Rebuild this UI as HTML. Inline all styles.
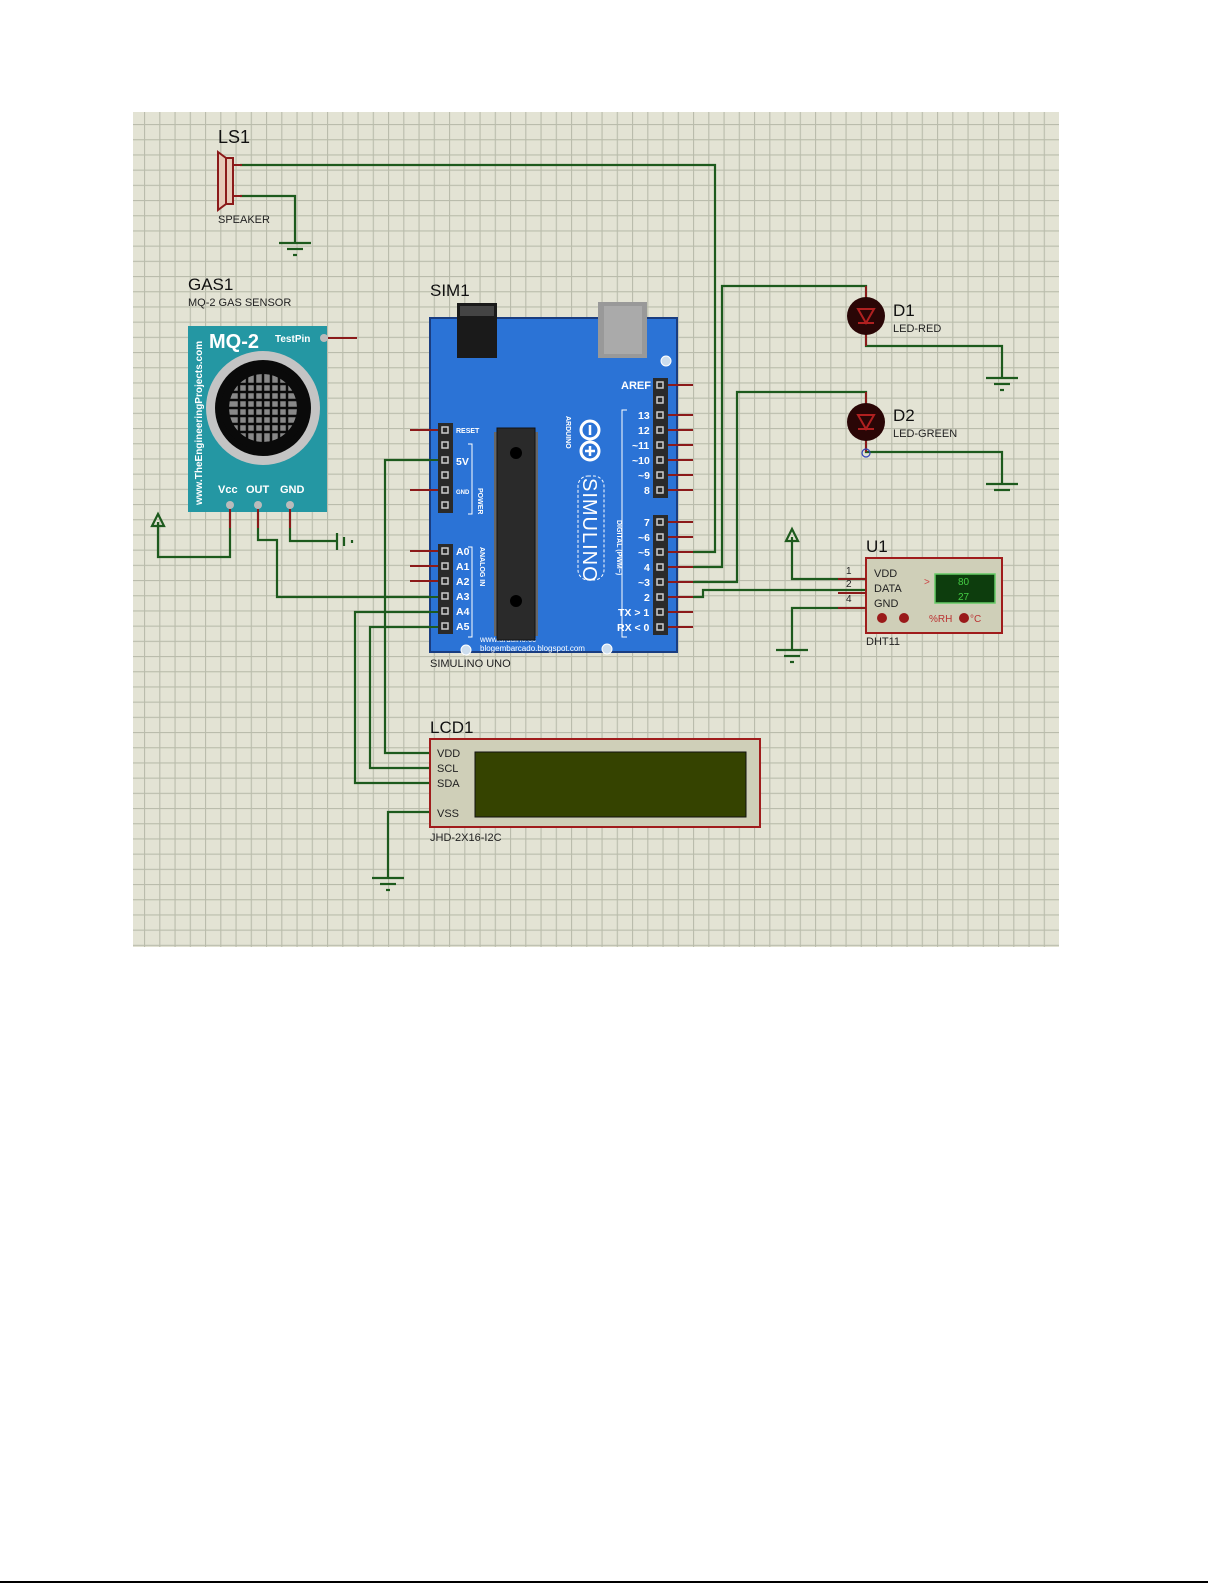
<!DOCTYPE html>
<html><head><meta charset="utf-8"><style>
html,body{margin:0;padding:0;background:#fff;}
svg{display:block;font-family:"Liberation Sans",Arial,sans-serif;}
</style></head><body>
<svg width="1225" height="1585" viewBox="0 0 1225 1585" xmlns="http://www.w3.org/2000/svg">
<defs>
<pattern id="g" x="144" y="124" width="15.25" height="15.2" patternUnits="userSpaceOnUse">
<rect width="15.25" height="15.2" fill="#e3e3d4"/>
<path d="M0.5 0V15.2M0 0.5H15.25" stroke="#b9bcab" stroke-width="1.2"/>
</pattern>
</defs>
<rect x="0" y="0" width="1225" height="1585" fill="#fff"/>
<rect x="133" y="112" width="926" height="835" fill="url(#g)"/>
<line x1="0" y1="1582" x2="1208" y2="1582" stroke="#000" stroke-width="2"/>

<!-- wires -->
<g fill="none" stroke="#1d5a1d" stroke-width="2.2">
<path d="M240 165H715V552H693"/>
<path d="M240 196H295V243"/>
<path d="M230 512V557H158V522"/>
<path d="M258 512V540H277V597H440"/>
<path d="M290 512V541H337"/>
<path d="M440 460H385V753H430"/>
<path d="M440 612H355V783H430"/>
<path d="M440 627H370V768H430"/>
<path d="M430 812H388V878"/>
<path d="M693 567H722V286H866V297"/>
<path d="M693 582H737V392H866V403"/>
<path d="M693 597H703V590H866"/>
<path d="M866 335V346H1002V378"/>
<path d="M866 441V452H1002V484"/>
<path d="M866 579H792V537"/>
<path d="M866 608H792V650"/>
</g>
<!-- grounds -->
<g stroke="#1d5a1d" stroke-width="2.2">
<line x1="279" y1="243" x2="311" y2="243"/><line x1="287" y1="249" x2="303" y2="249"/><line x1="293" y1="255" x2="297" y2="255"/>
<line x1="372" y1="878" x2="404" y2="878"/><line x1="380" y1="884" x2="396" y2="884"/><line x1="386" y1="890" x2="390" y2="890"/>
<line x1="986" y1="378" x2="1018" y2="378"/><line x1="994" y1="384" x2="1010" y2="384"/><line x1="1000" y1="390" x2="1004" y2="390"/>
<line x1="986" y1="484" x2="1018" y2="484"/><line x1="994" y1="490" x2="1010" y2="490"/>
<line x1="776" y1="650" x2="808" y2="650"/><line x1="784" y1="656" x2="800" y2="656"/><line x1="790" y1="662" x2="794" y2="662"/>
<line x1="337" y1="533" x2="337" y2="550"/><line x1="344" y1="537" x2="344" y2="546"/><line x1="352" y1="540" x2="352" y2="543"/>
</g>
<g fill="none" stroke="#1d5a1d" stroke-width="2.2">
<path d="M158 514L152 526H164Z"/><path d="M792 529L786 541H798Z"/>
</g>

<!-- speaker -->
<g stroke="#8b1a1a" stroke-width="2" fill="#e6c9b8">
<path d="M218 152L226 158V204L218 210Z"/>
<rect x="226" y="158" width="7" height="46"/>
<line x1="233" y1="165" x2="242" y2="165"/><line x1="233" y1="196" x2="242" y2="196"/>
</g>
<text x="218" y="143" font-size="18" fill="#111">LS1</text>
<text x="218" y="223" font-size="11" fill="#222">SPEAKER</text>

<!-- gas sensor -->
<text x="188" y="290" font-size="17" fill="#111">GAS1</text>
<text x="188" y="306" font-size="11" fill="#222">MQ-2 GAS SENSOR</text>
<rect x="188" y="326" width="139" height="186" fill="#2497a3"/>
<text x="209" y="348" font-size="20" font-weight="bold" fill="#fff">MQ-2</text>
<text x="275" y="342" font-size="10" font-weight="bold" fill="#fff">TestPin</text>
<circle cx="324" cy="338" r="4" fill="#bbb"/>
<line x1="328" y1="338" x2="357" y2="338" stroke="#8b1a1a" stroke-width="2"/>
<text transform="translate(202,505) rotate(-90)" font-size="10" font-weight="bold" fill="#fff">www.TheEngineeringProjects.com</text>
<circle cx="263" cy="408" r="57" fill="#c4c4c4"/>
<circle cx="263" cy="408" r="48" fill="#0a0a0a"/>
<circle cx="263" cy="408" r="34" fill="#888"/>
<g stroke="#0a0a0a" stroke-width="2.5">
<path d="M229 400H297M229 408H297M229 416H297M229 392H297M229 424H297M229 384H297M229 432H297"/>
<path d="M255 374V442M263 374V442M271 374V442M247 374V442M279 374V442M239 374V442M287 374V442"/>
</g>
<circle cx="263" cy="408" r="38" fill="none" stroke="#0a0a0a" stroke-width="8"/>
<text x="218" y="493" font-size="11" font-weight="bold" fill="#fff">Vcc</text>
<text x="246" y="493" font-size="11" font-weight="bold" fill="#fff">OUT</text>
<text x="280" y="493" font-size="11" font-weight="bold" fill="#fff">GND</text>
<g fill="#bbb"><circle cx="230" cy="505" r="4"/><circle cx="258" cy="505" r="4"/><circle cx="290" cy="505" r="4"/></g>
<g stroke="#8b1a1a" stroke-width="2"><line x1="230" y1="509" x2="230" y2="528"/><line x1="258" y1="509" x2="258" y2="528"/><line x1="290" y1="509" x2="290" y2="528"/></g>

<!-- arduino -->
<text x="430" y="296" font-size="17" fill="#111">SIM1</text>
<rect x="430" y="318" width="247" height="334" fill="#2b73d6" stroke="#1a3d80" stroke-width="2"/>
<rect x="457" y="303" width="40" height="55" fill="#1a1a1a"/>
<rect x="460" y="306" width="34" height="10" fill="#444"/>
<rect x="598" y="302" width="49" height="56" fill="#999"/>
<rect x="604" y="306" width="38" height="48" fill="#aaa"/>
<g fill="#cde" stroke="#fff"><circle cx="666" cy="361" r="5"/><circle cx="466" cy="650" r="5"/><circle cx="607" cy="649" r="5"/></g>
<rect x="653" y="378" width="15" height="120" fill="#2a2a2a"/>
<rect x="653" y="515" width="15" height="120" fill="#2a2a2a"/>
<rect x="438" y="423" width="15" height="90" fill="#2a2a2a"/>
<rect x="438" y="544" width="15" height="90" fill="#2a2a2a"/>
<g fill="none" stroke="#ccc" stroke-width="1.5">
<rect x="657" y="382" width="6" height="6"/><rect x="657" y="397" width="6" height="6"/><rect x="657" y="412" width="6" height="6"/><rect x="657" y="427" width="6" height="6"/><rect x="657" y="442" width="6" height="6"/><rect x="657" y="457" width="6" height="6"/><rect x="657" y="472" width="6" height="6"/><rect x="657" y="487" width="6" height="6"/>
<rect x="657" y="519" width="6" height="6"/><rect x="657" y="534" width="6" height="6"/><rect x="657" y="549" width="6" height="6"/><rect x="657" y="564" width="6" height="6"/><rect x="657" y="579" width="6" height="6"/><rect x="657" y="594" width="6" height="6"/><rect x="657" y="609" width="6" height="6"/><rect x="657" y="624" width="6" height="6"/>
<rect x="442" y="427" width="6" height="6"/><rect x="442" y="442" width="6" height="6"/><rect x="442" y="457" width="6" height="6"/><rect x="442" y="472" width="6" height="6"/><rect x="442" y="487" width="6" height="6"/><rect x="442" y="502" width="6" height="6"/>
<rect x="442" y="548" width="6" height="6"/><rect x="442" y="563" width="6" height="6"/><rect x="442" y="578" width="6" height="6"/><rect x="442" y="593" width="6" height="6"/><rect x="442" y="608" width="6" height="6"/><rect x="442" y="623" width="6" height="6"/>
</g>
<g stroke="#8b1a1a" stroke-width="2">
<path d="M668 385H693M668 415H693M668 430H693M668 445H693M668 460H693M668 475H693M668 490H693M668 522H693M668 537H693M668 552H693M668 567H693M668 582H693M668 597H693M668 612H693M668 627H693"/>
<path d="M410 430H438M410 490H438M410 551H438M410 566H438M410 581H438"/>
</g>
<g stroke="#1d5a1d" stroke-width="2"><path d="M410 597H438M410 612H438M410 627H438M410 460H438"/></g>
<g fill="#fff" font-weight="bold">
<text x="621" y="389" font-size="11">AREF</text>
<text x="638" y="419" font-size="10.5">13</text><text x="638" y="434" font-size="10.5">12</text><text x="632" y="449" font-size="10.5">~11</text><text x="632" y="464" font-size="10.5">~10</text><text x="638" y="479" font-size="10.5">~9</text><text x="644" y="494" font-size="10.5">8</text>
<text x="644" y="526" font-size="10.5">7</text><text x="638" y="541" font-size="10.5">~6</text><text x="638" y="556" font-size="10.5">~5</text><text x="644" y="571" font-size="10.5">4</text><text x="638" y="586" font-size="10.5">~3</text><text x="644" y="601" font-size="10.5">2</text><text x="618" y="616" font-size="10.5">TX &gt; 1</text><text x="617" y="631" font-size="10.5">RX &lt; 0</text>
<text x="456" y="433" font-size="7">RESET</text><text x="456" y="465" font-size="10.5">5V</text><text x="456" y="494" font-size="6">GND</text>
<text x="456" y="555" font-size="10.5">A0</text><text x="456" y="570" font-size="10.5">A1</text><text x="456" y="585" font-size="10.5">A2</text><text x="456" y="600" font-size="10.5">A3</text><text x="456" y="615" font-size="10.5">A4</text><text x="456" y="630" font-size="10.5">A5</text>
<text transform="translate(478,488) rotate(90)" font-size="7">POWER</text>
<text transform="translate(480,547) rotate(90)" font-size="7">ANALOG IN</text>
<text transform="translate(617,520) rotate(90)" font-size="7">DIGITAL (PWM~)</text>
<text transform="translate(566,416) rotate(90)" font-size="7">ARDUINO</text>
<text transform="translate(583,478) rotate(90)" font-size="20" font-weight="normal" letter-spacing="1">SIMULINO</text>
</g>
<g fill="none" stroke="#fff" stroke-width="1">
<path d="M468 444H472V514H468"/><path d="M468 547H472V637H468"/><path d="M627 410H622V637H627"/>
<rect x="578" y="476" width="26" height="104" rx="10" stroke-dasharray="3 2"/>
</g>
<g fill="none" stroke="#fff" stroke-width="3"><circle cx="590" cy="430" r="9"/><circle cx="590" cy="451" r="9"/></g>
<g stroke="#fff" stroke-width="2.5"><line x1="590" y1="425" x2="590" y2="435"/><line x1="585" y1="451" x2="595" y2="451"/><line x1="590" y1="446" x2="590" y2="456"/></g>
<text x="480" y="642" font-size="8" fill="#fff">www.arduino.cc</text>
<text x="480" y="651" font-size="8" fill="#fff">blogembarcado.blogspot.com</text>
<g fill="#666"><rect x="494" y="432" width="3" height="204"/><rect x="535" y="432" width="3" height="204"/></g>
<rect x="497" y="428" width="38" height="212" fill="#2a2a2a" stroke="#111"/>
<circle cx="516" cy="453" r="6" fill="#000"/><circle cx="516" cy="601" r="6" fill="#000"/>
<text x="430" y="667" font-size="11" fill="#222">SIMULINO UNO</text>

<!-- LCD -->
<text x="430" y="733" font-size="17" fill="#111">LCD1</text>
<rect x="430" y="739" width="330" height="88" fill="#cfcfb8" stroke="#a01c1c" stroke-width="2"/>
<rect x="475" y="752" width="271" height="65" fill="#354300" stroke="#111"/>
<g font-size="11" fill="#222"><text x="437" y="757">VDD</text><text x="437" y="772">SCL</text><text x="437" y="787">SDA</text><text x="437" y="817">VSS</text></g>
<text x="430" y="841" font-size="11" fill="#222">JHD-2X16-I2C</text>

<!-- LEDs -->
<g stroke="#8b1a1a" stroke-width="2"><line x1="866" y1="286" x2="866" y2="346"/><line x1="866" y1="392" x2="866" y2="452"/></g>
<circle cx="866" cy="316" r="19" fill="#2a0606"/>
<circle cx="866" cy="422" r="19" fill="#2a0606"/>
<g fill="none" stroke="#b02020" stroke-width="2"><path d="M858 309H874L866 323Z M858 323H874"/><path d="M858 415H874L866 429Z M858 429H874"/></g>
<circle cx="866" cy="453" r="4" fill="none" stroke="#3344bb" stroke-width="1.2"/>
<text x="893" y="316" font-size="17" fill="#111">D1</text><text x="893" y="332" font-size="11" fill="#222">LED-RED</text>
<text x="893" y="421" font-size="17" fill="#111">D2</text><text x="893" y="437" font-size="11" fill="#222">LED-GREEN</text>

<!-- DHT11 -->
<text x="866" y="552" font-size="17" fill="#111">U1</text>
<rect x="866" y="558" width="136" height="75" fill="#cfcfb8" stroke="#a01c1c" stroke-width="2"/>
<g stroke="#8b1a1a" stroke-width="2"><path d="M838 579H866M838 593H866M838 608H866"/></g>
<g font-size="10" fill="#222"><text x="846" y="574">1</text><text x="846" y="587">2</text><text x="846" y="602">4</text></g>
<g font-size="11" fill="#222"><text x="874" y="577">VDD</text><text x="874" y="592">DATA</text><text x="874" y="607">GND</text></g>
<text x="924" y="585" font-size="10" fill="#c44">&gt;</text>
<rect x="935" y="574" width="60" height="29" fill="#0d3d0d" stroke="#6c6" stroke-width="1.5"/>
<text x="958" y="585" font-size="10" fill="#4c4">80</text><text x="958" y="600" font-size="10" fill="#4c4">27</text>
<g fill="#9a1a1a"><circle cx="882" cy="618" r="5"/><circle cx="904" cy="618" r="5"/><circle cx="964" cy="618" r="5"/></g>
<text x="929" y="622" font-size="10" fill="#b33">%RH</text><text x="970" y="622" font-size="10" fill="#b33">°C</text>
<text x="866" y="645" font-size="11" fill="#222">DHT11</text>
</svg>
</body></html>
